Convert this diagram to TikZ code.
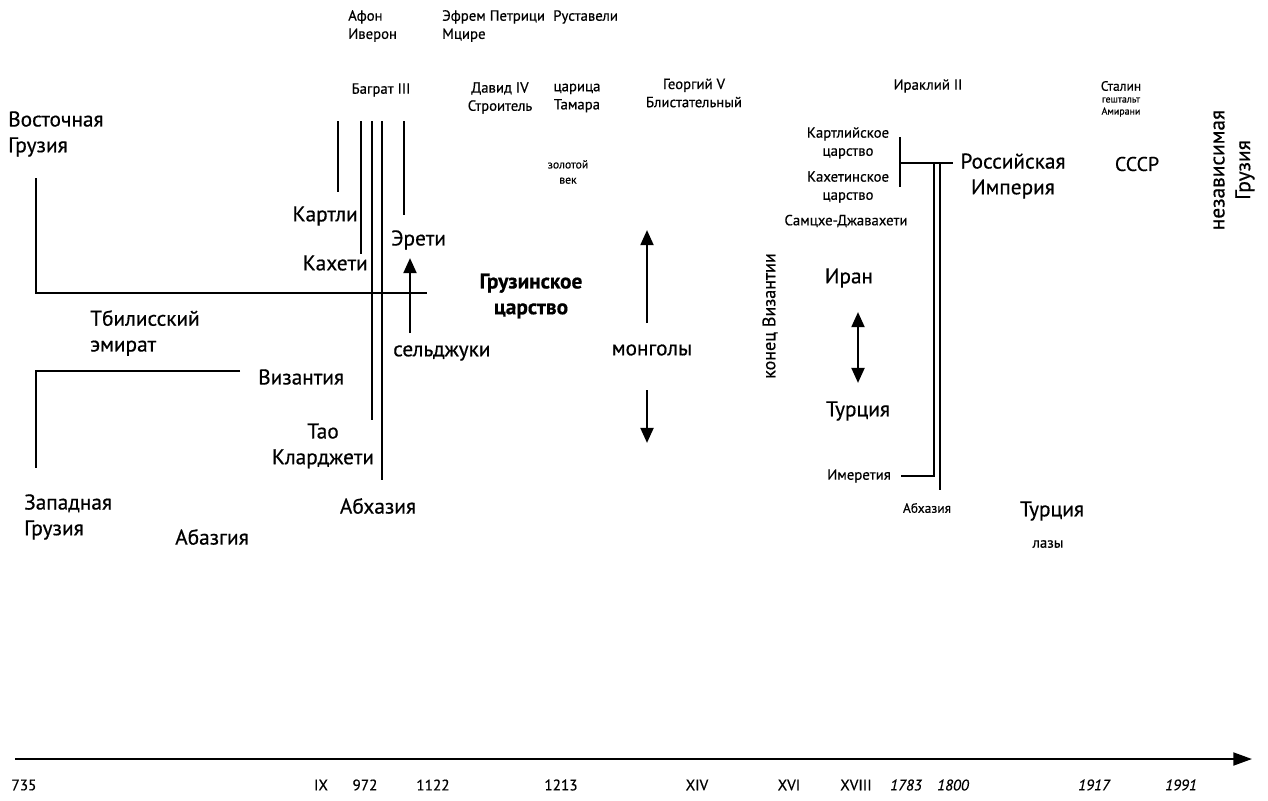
\documentclass[tikz,border=0pt]{standalone}
\usepackage{fontspec}
\setmainfont{PT Sans}[FakeBold=0.5]
\usetikzlibrary{arrows.meta}
\begin{document}
\begin{tikzpicture}[x=0.03cm,y=-0.03cm,
  big/.style={font=\fontsize{18.2}{22}\selectfont, align=center, inner sep=0pt},
  mid/.style={font=\fontsize{12.6}{15.5}\selectfont, align=center, inner sep=0pt},
  small/.style={font=\fontsize{10}{13}\selectfont, align=center, inner sep=0pt},
  tiny/.style={font=\fontsize{8.5}{10}\selectfont, align=center, inner sep=0pt},
  year/.style={font=\fontsize{13}{15}\selectfont, inner sep=0pt},
  yearit/.style={year, font=\fontsize{13}{15}\selectfont\itshape},
  bar/.style={line width=2.3pt},
  tip/.style={-{Triangle[length=13pt,width=11pt]}},
  ]
\useasboundingbox (0,0) rectangle (1268,800);

% --- names and events across the top
\node[mid, align=left, anchor=west] (afon) at (348,26) {Афон\\Иверон};
\node[mid, align=left, anchor=west] (efrem) at (442,26) {Эфрем Петрици\\Мцире};
\node[mid, anchor=west] (rust) at (553,17) {Руставели};
\node[mid] (bagrat) at (381,90) {Баграт III};
\node[mid] (david) at (500,98) {Давид IV\\Строитель};
\node[mid] (tamar) at (577,98) {царица\\Тамара};
\node[mid] (georg) at (694,93) {Георгий V\\Блистательный};
\node[mid] (irakli) at (928,86) {Ираклий II};
\node[mid, font=\fontsize{11.5}{14}\selectfont] (stalin) at (1121,86) {Сталин};
\node[tiny] (gesh) at (1121,100) {гештальт};
\node[tiny] (amir) at (1121,112) {Амирани};
\node[big, rotate=90] (indep) at (1234,170) {независимая\\Грузия};

% --- early period: east and west Georgia
\node[big, align=left, anchor=west] (east) at (8,134) {Восточная\\Грузия};
\node[big, align=left, anchor=west] (tbil) at (90,333) {Тбилисский\\эмират};
\node[big, anchor=west] (byz) at (258,377) {Византия};
\node[big, align=left, anchor=west] (west) at (24,517) {Западная\\Грузия};
\node[big, anchor=west] (abaz) at (175,537) {Абазгия};
\node[big] (tao) at (323,446) {Тао\\Кларджети};
\node[big] (abkh) at (378,506) {Абхазия};
\node[big, anchor=east] (kartli) at (358,216) {Картли};
\node[big, anchor=east] (kakheti) at (368,263) {Кахети};
\node[big, anchor=west] (ereti) at (391,240) {Эрети};
\node[big, anchor=west] (seljuk) at (393,353) {сельджуки};
\node[big, font=\fontsize{18.2}{22}\selectfont\bfseries] (gruz) at (531,296) {Грузинское\\царство};
\node[small] (gold) at (568,172) {золотой\\век};
\node[big] (mong) at (652,350) {монголы};
\node[big, font=\fontsize{15.4}{18}\selectfont, rotate=90] (endbyz) at (770,316) {конец Византии};

% --- later kingdoms
\node[mid] (kartk) at (848,143) {Картлийское\\царство};
\node[mid] (kakk) at (848,187) {Кахетинское\\царство};
\node[mid] (samc) at (846,221) {Самцхе-Джавахети};
\node[big] (iran) at (849,278) {Иран};
\node[big] (turk1) at (858,411) {Турция};
\node[mid, anchor=east] (imer) at (891,476) {Имеретия};
\node[big] (rus) at (1013,176) {Российская\\Империя};
\node[mid, font=\fontsize{11.5}{14}\selectfont] (abkh2) at (927,508) {Абхазия};
\node[big] (turk2) at (1052,511) {Турция};
\node[mid] (laz) at (1048,544) {лазы};
\node[big, font=\fontsize{17}{21}\selectfont] (ussr) at (1137,164) {СССР};

% --- brackets and bars of the early period
\draw[bar] (36,178) -- (36,293) -- (427,293);
\draw[bar] (240,371) -- (36,371) -- (36,468);
\draw[bar] (338,121) -- (338,192);
\draw[bar] (361,121) -- (361,254);
\draw[bar] (372,121) -- (372,420);
\draw[bar] (382,121) -- (382,480);
\draw[bar] (404,121) -- (404,215);

% --- arrows of invasions
\coordinate (sA) at (410,333); \coordinate (sB) at (410,258);
\draw[bar, tip] (sA) -- (sB);
\coordinate (mA) at (647,323); \coordinate (mB) at (647,230);
\draw[bar, tip] (mA) -- (mB);
\coordinate (mC) at (647,390); \coordinate (mD) at (647,443);
\draw[bar, tip] (mC) -- (mD);
\coordinate (iA) at (858,312); \coordinate (iB) at (858,383);
\draw[bar, {Triangle[length=13pt,width=11pt]}-{Triangle[length=13pt,width=11pt]}] (iA) -- (iB);

% --- union into the Russian Empire
\draw[bar] (900,137) -- (900,187);
\draw[bar] (900,163) -- (953,163);
\draw[bar] (901,476) -- (934,476) -- (934,163);
\draw[bar] (940,163) -- (940,490);

% --- time axis
\coordinate (t0) at (15,759);
\coordinate (t1) at (1252,759);
\draw[line width=2pt, -{Triangle[length=16pt,width=11pt]}] (t0) -- (t1);
\node[year] (y735) at (24,785) {735};
\node[year] (y9) at (321,785) {IX};
\node[year] (y972) at (365,785) {972};
\node[year] (y1122) at (433,785) {1122};
\node[year] (y1213) at (561,785) {1213};
\node[year] (y14) at (697,785) {XIV};
\node[year] (y16) at (789,785) {XVI};
\node[year] (y18) at (856,785) {XVIII};
\node[yearit] (y1783) at (906,785) {1783};
\node[yearit] (y1800) at (953,785) {1800};
\node[yearit] (y1917) at (1094,785) {1917};
\node[yearit] (y1991) at (1181,785) {1991};
\end{tikzpicture}
\end{document}
